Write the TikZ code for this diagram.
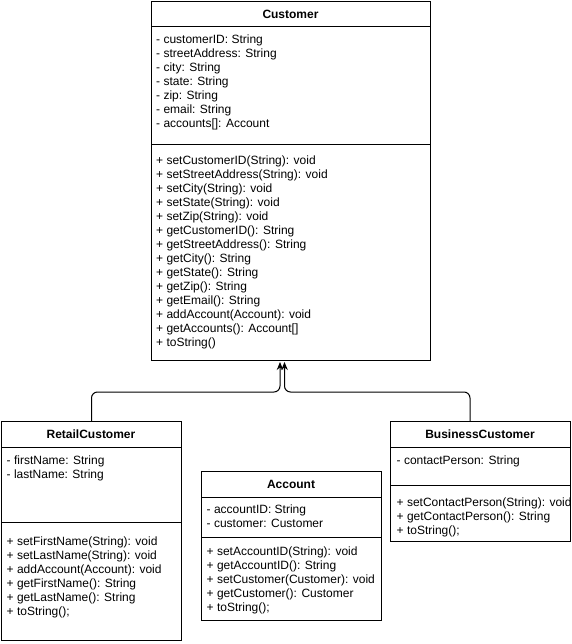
\documentclass[tikz,border=0pt]{standalone}
\usepackage{fontspec}
\setmainfont{Liberation Sans}
\usetikzlibrary{arrows.meta}
\tikzset{
  umlbox/.style={draw, line width=1pt, fill=white, anchor=north west, inner sep=0pt},
  divline/.style={line width=1pt},
  umltitle/.style={font=\fontsize{12}{14}\selectfont\bfseries, inner sep=0pt},
  umltext/.style={font=\fontsize{12}{14}\selectfont, align=left, anchor=north west, inner sep=0pt},
  gen/.style={line width=1pt, rounded corners=6pt, -{Stealth[length=8pt,width=6.5pt]}}
}
\begin{document}
\begin{tikzpicture}[x=1pt,y=-1pt]
\useasboundingbox (0,0) rectangle (571,644);

% ---------- Customer ----------
\node[umlbox, minimum width=279pt, minimum height=359pt] (cust) at (151,1) {};
\draw[divline] ([yshift=-26pt]cust.north west) -- ([yshift=-26pt]cust.north east);
\draw[divline] ([yshift=-144pt]cust.north west) -- ([yshift=-144pt]cust.north east);
\node[umltitle] (custT) at (290.5,14) {Customer};
\node[umltext] (custA) at (156,34.6) {- customerID: String\\- streetAddress: String\\- city: String\\- state: String\\- zip: String\\- email: String\\- accounts[]: Account};
\node[umltext] (custM) at (156,155.6) {+ setCustomerID(String): void\\+ setStreetAddress(String): void\\+ setCity(String): void\\+ setState(String): void\\+ setZip(String): void\\+ getCustomerID(): String\\+ getStreetAddress(): String\\+ getCity(): String\\+ getState(): String\\+ getZip(): String\\+ getEmail(): String\\+ addAccount(Account): void\\+ getAccounts(): Account[]\\+ toString()};

% ---------- RetailCustomer ----------
\node[umlbox, minimum width=180pt, minimum height=219pt] (rc) at (1,421) {};
\draw[divline] ([yshift=-26pt]rc.north west) -- ([yshift=-26pt]rc.north east);
\draw[divline] ([yshift=-101pt]rc.north west) -- ([yshift=-101pt]rc.north east);
\node[umltitle] (rcT) at (91,434) {RetailCustomer};
\node[umltext] (rcA) at (6.5,455.6) {- firstName: String\\- lastName: String};
\node[umltext] (rcM) at (6.5,536.6) {+ setFirstName(String): void\\+ setLastName(String): void\\+ addAccount(Account): void\\+ getFirstName(): String\\+ getLastName(): String\\+ toString();};

% ---------- Account ----------
\node[umlbox, minimum width=180pt, minimum height=149pt] (acc) at (201,471) {};
\draw[divline] ([yshift=-26pt]acc.north west) -- ([yshift=-26pt]acc.north east);
\draw[divline] ([yshift=-66pt]acc.north west) -- ([yshift=-66pt]acc.north east);
\node[umltitle] (accT) at (291,484) {Account};
\node[umltext] (accA) at (206.5,504.6) {- accountID: String\\- customer: Customer};
\node[umltext] (accM) at (206.5,546.6) {+ setAccountID(String): void\\+ getAccountID(): String\\+ setCustomer(Customer): void\\+ getCustomer(): Customer\\+ toString();};

% ---------- BusinessCustomer ----------
\node[umlbox, minimum width=180pt, minimum height=120pt] (bc) at (390,421) {};
\begin{scope}
\clip ([xshift=0.5pt]bc.north west) rectangle ([xshift=-0.5pt]bc.south east);
\node[umltitle] (bcT) at (480,434) {BusinessCustomer};
\node[umltext] (bcA) at (396.5,455.6) {- contactPerson: String};
\node[umltext] (bcM) at (396.5,497.1) {+ setContactPerson(String): void\\+ getContactPerson(): String\\+ toString();};
\end{scope}
\draw[divline] ([yshift=-26pt]bc.north west) -- ([yshift=-26pt]bc.north east);
\draw[divline] ([yshift=-64pt]bc.north west) -- ([yshift=-64pt]bc.north east);

% ---------- generalization connectors ----------
\coordinate (lvl) at (0,392);
\coordinate (tipL) at (280,362);
\coordinate (tipR) at (284.5,362);
\coordinate (bcTop) at (470,421);
\draw[gen] (rc.north) -- (rc.north |- lvl) -- (tipL |- lvl) -- (tipL);
\draw[gen] (bcTop) -- (bcTop |- lvl) -- (tipR |- lvl) -- (tipR);
\end{tikzpicture}
\end{document}
